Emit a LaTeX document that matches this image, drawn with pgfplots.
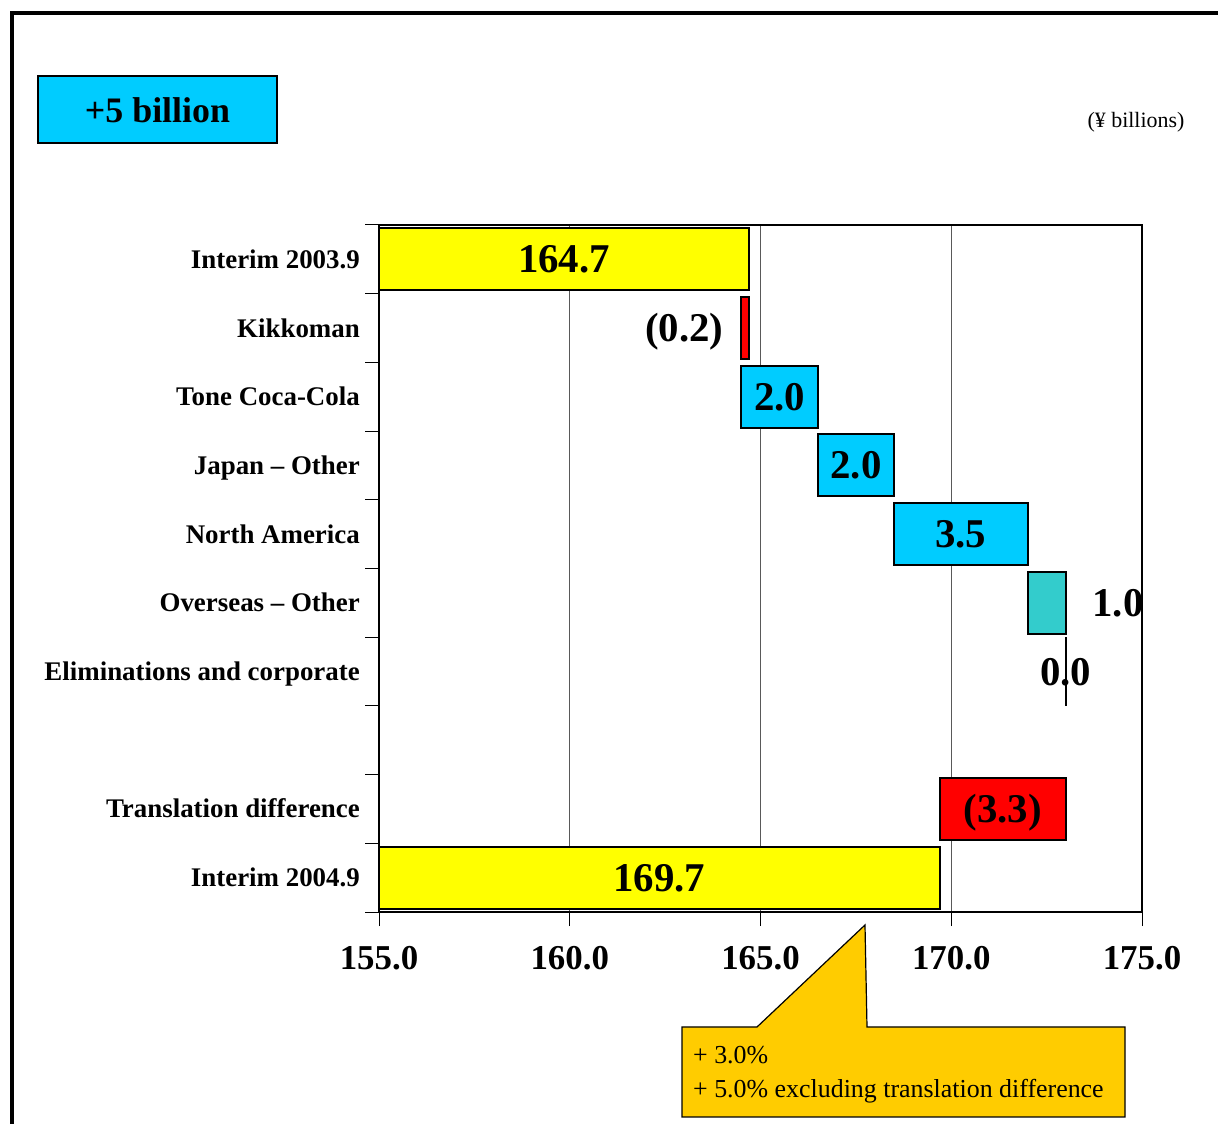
\documentclass[border=0pt]{standalone}
\usepackage{pgfplots}
\pgfplotsset{compat=1.18}
\usepackage{fontspec}
\setmainfont{Liberation Serif}
\definecolor{barblue}{HTML}{00CCFF}
\definecolor{barteal}{HTML}{33CCCC}
\definecolor{baryellow}{HTML}{FFFF00}
\definecolor{barred}{HTML}{FF0000}
\definecolor{callout}{HTML}{FFCC00}
\pgfplotsset{
  wfgeom/.style={at={(379bp,212bp)}, anchor=south west, scale only axis,
    width=763bp, height=687bp, xmin=155, xmax=175, ymin=0.5, ymax=10.5,
    y dir=reverse},
  wf/.style={wfgeom, xbar stacked, bar width=62bp},
  base/.style={draw=none, fill=none},
  vis/.style={draw=black, line width=2bp, fill=#1},
}
\tikzset{bn/.style={font=\fontsize{41}{46}\selectfont\bfseries, text height=27bp, text depth=0pt}}
\begin{document}
\begin{tikzpicture}[x=1bp,y=1bp]
\useasboundingbox (0,0) rectangle (1218,1124);
% outer frame
\draw[line width=4bp] (12,0) -- (12,1111) -- (1218,1111);
% +5 billion box
\draw[fill=barblue, line width=1.5bp] (38,981) rectangle (277,1048);
\node[font=\fontsize{36}{40}\selectfont\bfseries] at (157.5,1014) {+5 billion};
\node[font=\fontsize{22}{26}\selectfont] at (1136,1002) {(¥ billions)};

% main axis with yellow bars
\begin{axis}[wf,
  axis line style={line width=1.2bp},
  xtick={155,160,165,170,175},
  xticklabels={155.0,160.0,165.0,170.0,175.0},
  xtick pos=bottom, ytick pos=left,
  ytick={0.5,1.5,2.5,3.5,4.5,5.5,6.5,7.5,8.5,9.5,10.5},
  yticklabels={Interim 2003.9,Kikkoman,Tone Coca-Cola,Japan -- Other,North America,Overseas -- Other,Eliminations and corporate,{},Translation difference,Interim 2004.9,{}},
  tick align=outside, major tick length=14bp,
  tick style={black, line width=1bp},
  xmajorgrids, grid style={black!65, line width=0.8bp},
  xticklabel style={font=\fontsize{35}{40}\selectfont\bfseries, inner sep=0pt, yshift=-20bp},
  yticklabel style={font=\fontsize{27}{32}\selectfont\bfseries, inner sep=0pt, text height=18bp, text depth=0pt, xshift=-5bp, yshift=-34.35bp},
]
\addplot[base] coordinates {(155,1) (155,10)};
\addplot[vis=baryellow] coordinates {(9.7,1) (14.7,10)};
\end{axis}

% red bars
\begin{axis}[wf, hide axis]
\addplot[base] coordinates {(164.5,2) (169.7,9)};
\addplot[vis=barred] coordinates {(0.2,2) (3.3,9)};
\end{axis}

% blue bars
\begin{axis}[wf, hide axis]
\addplot[base] coordinates {(164.5,3) (166.5,4) (168.5,5)};
\addplot[vis=barblue] coordinates {(2.0,3) (2.0,4) (3.5,5)};
\end{axis}

% teal bar
\begin{axis}[wf, hide axis]
\addplot[base] coordinates {(172.0,6)};
\addplot[vis=barteal] coordinates {(1.0,6)};
\end{axis}

% zero change (eliminations) and labels
\begin{axis}[wfgeom, hide axis]
\addplot[black, line width=2bp] coordinates {(173.0,6.5) (173.0,7.5)};
\node[bn] at (axis cs:159.85,1) {164.7};
\node[bn] at (axis cs:163.0,2) {(0.2)};
\node[bn] at (axis cs:165.5,3) {2.0};
\node[bn] at (axis cs:167.5,4) {2.0};
\node[bn] at (axis cs:170.25,5) {3.5};
\node[bn] at (axis cs:174.37,6) {1.0};
\node[bn] at (axis cs:173.0,7) {0.0};
\node[bn] at (axis cs:171.35,9) {(3.3)};
\node[bn] at (axis cs:162.35,10) {169.7};
\end{axis}

% callout
\draw[fill=callout, line width=1.2bp] (682,97) -- (757,97) -- (865,199) -- (867,97) -- (1125,97) -- (1125,7) -- (682,7) -- cycle;
\node[font=\fontsize{26}{30}\selectfont, anchor=base west, inner sep=0pt] at (693,60) {+ 3.0\%};
\node[font=\fontsize{26}{30}\selectfont, anchor=base west, inner sep=0pt] at (693,26) {+ 5.0\% excluding translation difference};
\end{tikzpicture}
\end{document}
